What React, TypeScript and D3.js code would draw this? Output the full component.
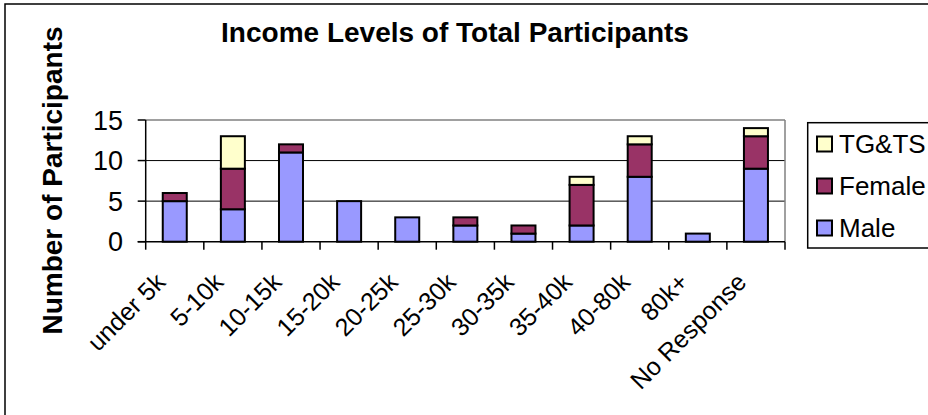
import React from "react";
import * as d3 from "d3";

const categories = [
  "under 5k",
  "5-10k",
  "10-15k",
  "15-20k",
  "20-25k",
  "25-30k",
  "30-35k",
  "35-40k",
  "40-80k",
  "80k+",
  "No Response"
];
const male = [5, 4, 11, 5, 3, 2, 1, 2, 8, 1, 9];
const female = [1, 5, 1, 0, 0, 1, 1, 5, 4, 0, 4];
const tgts = [0, 4, 0, 0, 0, 0, 0, 1, 1, 0, 1];
const seriesNames = ["Male", "Female", "TG&TS"];
const colors = ["#9999ff", "#993366", "#ffffcc"];
const yTicks = [0, 5, 10, 15];

const W = 928;
const H = 415;
const plot = { left: 145.7, right: 785, top: 120, bottom: 241.7 };
const font = "Arial, 'Liberation Sans', sans-serif";

export default function App() {
  const rows = categories.map((c, i) => ({
    cat: c,
    Male: male[i],
    Female: female[i],
    "TG&TS": tgts[i]
  }));
  const stacked = d3.stack<any>().keys(seriesNames)(rows);

  const x = d3
    .scaleBand()
    .domain(categories)
    .range([plot.left, plot.right])
    .paddingInner(0.587)
    .paddingOuter(0.2935);
  const y = d3.scaleLinear().domain([0, 15]).range([plot.bottom, plot.top]);
  const step = (plot.right - plot.left) / categories.length;

  return (
    <svg
      width={W}
      height={H}
      style={{ position: "absolute", left: 0, top: 0, background: "#fff" }}
      fontFamily={font}
    >
      {/* chart border */}
      <rect x={5} y={4} width={940} height={430} fill="#fff" stroke="#000" strokeWidth={1.5} />

      <text x={455} y={41.5} textAnchor="middle" fontSize={28} fontWeight="bold">
        Income Levels of Total Participants
      </text>

      <text
        transform={`translate(62,180.5) rotate(-90)`}
        textAnchor="middle"
        fontSize={28}
        fontWeight="bold"
      >
        Number of Participants
      </text>

      {/* gridlines */}
      {yTicks.slice(1, 3).map(t => (
        <line key={t} x1={plot.left} x2={plot.right} y1={y(t)} y2={y(t)} stroke="#000" strokeWidth={1} />
      ))}
      {/* plot area frame top/right */}
      <line x1={plot.left} x2={plot.right} y1={plot.top} y2={plot.top} stroke="#808080" strokeWidth={1.5} />
      <line x1={plot.right} x2={plot.right} y1={plot.top} y2={plot.bottom} stroke="#808080" strokeWidth={1.5} />

      {/* bars */}
      {stacked.map((s, si) => (
        <g key={s.key} fill={colors[si]} stroke="#000" strokeWidth={2}>
          {s.map((d, i) =>
            d[1] - d[0] > 0 ? (
              <rect
                key={i}
                x={x(categories[i])}
                width={x.bandwidth()}
                y={y(d[1])}
                height={y(d[0]) - y(d[1])}
              />
            ) : null
          )}
        </g>
      ))}

      {/* y axis */}
      <line x1={plot.left} x2={plot.left} y1={plot.top} y2={plot.bottom} stroke="#000" strokeWidth={1.5} />
      {yTicks.map(t => (
        <g key={t}>
          <line x1={plot.left - 8} x2={plot.left} y1={y(t)} y2={y(t)} stroke="#000" strokeWidth={1.5} />
          <text x={123} y={y(t)} dy="0.36em" textAnchor="end" fontSize={27}>
            {t}
          </text>
        </g>
      ))}

      {/* x axis */}
      <line x1={plot.left - 8} x2={plot.right} y1={plot.bottom} y2={plot.bottom} stroke="#000" strokeWidth={1.5} />
      {d3.range(categories.length + 1).map(i => (
        <line
          key={i}
          x1={plot.left + i * step}
          x2={plot.left + i * step}
          y1={plot.bottom}
          y2={plot.bottom + 8}
          stroke="#000"
          strokeWidth={1.5}
        />
      ))}
      {categories.map(c => {
        const cx = (x(c) as number) + x.bandwidth() / 2;
        return (
          <text
            key={c}
            transform={`translate(${cx - 8},${plot.bottom + 42}) rotate(-45)`}
            textAnchor="end"
            fontSize={25}
          >
            {c}
          </text>
        );
      })}

      {/* legend */}
      <rect x={807.7} y={122.7} width={140} height={125.3} fill="#fff" stroke="#000" strokeWidth={1.5} />
      {seriesNames
        .slice()
        .reverse()
        .map((n, i) => {
          const cy = 144 + i * 42;
          const ci = seriesNames.indexOf(n);
          return (
            <g key={n}>
              <rect x={817} y={cy - 7.5} width={15} height={15} fill={colors[ci]} stroke="#000" strokeWidth={2} />
              <text x={839} y={cy} dy="0.36em" fontSize={26}>
                {n}
              </text>
            </g>
          );
        })}
    </svg>
  );
}
